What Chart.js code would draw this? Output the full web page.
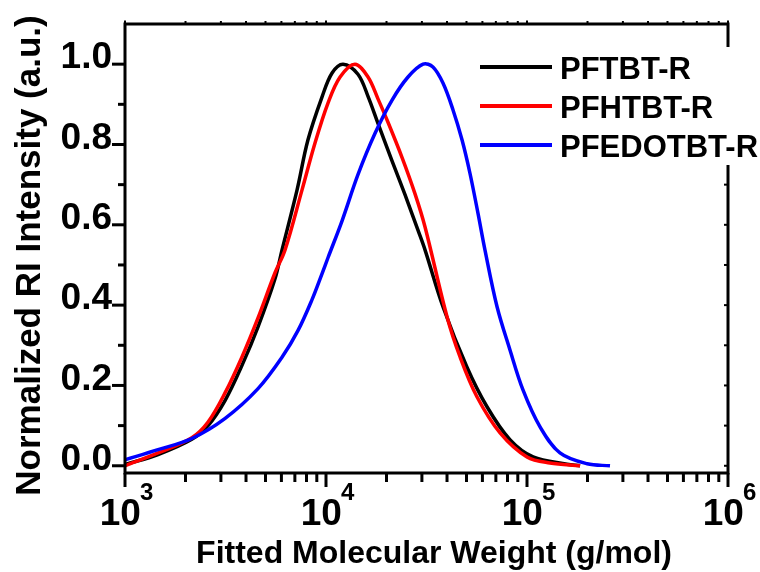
<!DOCTYPE html>
<html><head><meta charset="utf-8">
<script src="https://cdn.jsdelivr.net/npm/chart.js@4.4.0/dist/chart.umd.min.js"></script>
<style>html,body{margin:0;padding:0;background:#fff}canvas{display:block}</style>
</head><body>
<canvas id="c" width="760" height="572"></canvas>
<script>
// ---- data ----
const seriesNames  = ['PFTBT-R', 'PFHTBT-R', 'PFEDOTBT-R'];
const seriesColors = ['#000000', '#ff0000', '#0000ff'];

const pftbtMW  = [1000, 1460, 2150, 2590, 3150, 3820, 4590, 5570, 6040, 7180, 8130, 9550, 10720, 12160, 14420, 16180, 18160, 21280, 24720, 28710, 31120, 38190, 50230, 63240, 82220, 107200, 158100, 183700];
const pftbtInt = [0.003, 0.028, 0.066, 0.100, 0.163, 0.250, 0.346, 0.465, 0.537, 0.687, 0.811, 0.918, 0.978, 1.000, 0.975, 0.920, 0.852, 0.760, 0.675, 0.586, 0.537, 0.396, 0.246, 0.147, 0.065, 0.022, 0.004, 0.000];

const pfhtbtMW  = [1000, 1460, 2150, 2590, 3150, 3820, 4590, 5570, 6250, 7600, 8810, 10230, 11750, 13930, 16180, 18160, 20320, 23880, 27730, 31120, 40000, 46450, 56360, 73450, 100000, 130000, 183700];
const pfhtbtInt = [0.000, 0.032, 0.070, 0.109, 0.182, 0.271, 0.368, 0.480, 0.537, 0.687, 0.803, 0.903, 0.968, 1.000, 0.968, 0.913, 0.856, 0.768, 0.677, 0.594, 0.371, 0.271, 0.172, 0.082, 0.022, 0.007, 0.000];

const pfedotMW  = [1000, 1460, 2150, 3150, 4590, 6040, 7260, 8510, 9550, 10230, 12020, 14420, 17540, 21280, 25590, 30410, 34040, 38190, 42850, 47530, 51990, 57020, 61800, 70960, 82220, 95500, 116100, 145900, 199100, 258800];
const pfedotInt = [0.015, 0.040, 0.068, 0.118, 0.192, 0.270, 0.337, 0.413, 0.478, 0.518, 0.610, 0.725, 0.828, 0.910, 0.968, 1.000, 0.993, 0.953, 0.886, 0.811, 0.729, 0.629, 0.537, 0.396, 0.289, 0.189, 0.097, 0.032, 0.005, 0.000];

const yTickValues  = [0.0, 0.2, 0.4, 0.6, 0.8, 1.0];
const yMinorValues = [0.1, 0.3, 0.5, 0.7, 0.9];
const xMajorValues = [1e3, 1e4, 1e5, 1e6];
const xExponents   = ['3', '4', '5', '6'];
const xTitle = 'Fitted Molecular Weight (g/mol)';
const yTitle = 'Normalized RI Intensity (a.u.)';

const FONT = '"Liberation Sans", Arial, sans-serif';

function toPoints(xs, ys) { return xs.map((v, i) => ({x: v, y: ys[i]})); }

const datasets = [
  {label: seriesNames[0], data: toPoints(pftbtMW, pftbtInt), borderColor: seriesColors[0], order: 3},
  {label: seriesNames[1], data: toPoints(pfhtbtMW, pfhtbtInt), borderColor: seriesColors[1], order: 2},
  {label: seriesNames[2], data: toPoints(pfedotMW, pfedotInt), borderColor: seriesColors[2], order: 1}
].map(d => Object.assign(d, {borderWidth: 3.5, pointRadius: 0, fill: false, tension: 0.35}));

const decorPlugin = {
  id: 'decor',
  afterDraw(chart) {
    const {ctx, chartArea: a, scales: {x, y}} = chart;
    ctx.save();
    ctx.strokeStyle = '#000';
    ctx.fillStyle = '#000';
    ctx.lineCap = 'butt';
    const line = (x0, y0, x1, y1, w) => { ctx.lineWidth = w; ctx.beginPath(); ctx.moveTo(x0, y0); ctx.lineTo(x1, y1); ctx.stroke(); };

    // minor x positions 2..9 x decade
    const xMinor = [];
    for (let i = 0; i < xMajorValues.length - 1; i++)
      for (let k = 2; k <= 9; k++) xMinor.push(xMajorValues[i] * k);

    // bottom + top ticks
    xMajorValues.forEach(v => { const p = x.getPixelForValue(v); line(p, a.bottom, p, a.bottom + 14, 3); line(p, a.top, p, a.top - 3.5, 2); });
    xMinor.forEach(v => { const p = x.getPixelForValue(v); line(p, a.bottom, p, a.bottom + 9, 3); line(p, a.top, p, a.top - 3, 2); });
    // left + right ticks
    yTickValues.forEach(v => { const p = y.getPixelForValue(v); line(a.left, p, a.left - 13, p, 3); line(a.right, p, a.right - 4, p, 2); });
    yMinorValues.forEach(v => { const p = y.getPixelForValue(v); line(a.left, p, a.left - 7, p, 3); line(a.right, p, a.right - 4, p, 2); });

    // frame
    ctx.lineWidth = 3;
    ctx.strokeRect(a.left, a.top, a.right - a.left, a.bottom - a.top);

    // x tick labels 10^n
    xMajorValues.forEach((v, i) => {
      const p = x.getPixelForValue(v);
      ctx.font = 'bold 37px ' + FONT;
      const wb = ctx.measureText('10').width;
      ctx.font = 'bold 24px ' + FONT;
      const we = ctx.measureText(xExponents[i]).width;
      const start = p - (wb + we) / 2 + 2;
      ctx.textAlign = 'left'; ctx.textBaseline = 'alphabetic';
      ctx.font = 'bold 37px ' + FONT;
      ctx.fillText('10', start, 525);
      ctx.font = 'bold 24px ' + FONT;
      ctx.fillText(xExponents[i], start + wb - 1, 500);
    });

    // axis titles
    ctx.textAlign = 'center'; ctx.textBaseline = 'alphabetic';
    ctx.font = 'bold 32px ' + FONT;
    ctx.fillText(xTitle, 434, 563);
    ctx.save();
    ctx.translate(40, 255.5);
    ctx.rotate(-Math.PI / 2);
    ctx.font = 'bold 35px ' + FONT;
    ctx.fillText(yTitle, 0, 0);
    ctx.restore();

    // legend
    ctx.fillStyle = '#fff';
    ctx.fillRect(476, 47, 284, 118);
    const rows = [67, 106, 145];
    chart.data.datasets.forEach((d, i) => {
      ctx.strokeStyle = d.borderColor;
      line(480, rows[i], 552, rows[i], 4);
      ctx.fillStyle = '#000';
      ctx.font = 'bold 31px ' + FONT;
      ctx.textAlign = 'left'; ctx.textBaseline = 'alphabetic';
      ctx.fillText(d.label, 560, rows[i] + 11.5);
    });
    ctx.restore();
  }
};

new Chart(document.getElementById('c'), {
  type: 'line',
  data: {datasets},
  options: {
    responsive: false,
    animation: false,
    layout: {padding: {top: 24, right: 32, left: 0, bottom: 0}},
    plugins: {legend: {display: false}, tooltip: {enabled: false}},
    scales: {
      x: {
        type: 'logarithmic', min: 1e3, max: 1e6,
        grid: {display: false, drawTicks: false},
        border: {display: false},
        ticks: {display: false},
        afterFit: s => { s.height = 99; }
      },
      y: {
        type: 'linear', min: -0.018, max: 1.1,
        grid: {display: false, drawTicks: true, tickLength: 13},
        border: {display: false},
        afterBuildTicks: s => { s.ticks = yTickValues.map(v => ({value: v})); },
        ticks: {
          padding: 0, labelOffset: -6, color: '#000',
          font: {family: FONT, size: 37, weight: 'bold'},
          callback: v => Number(v).toFixed(1)
        },
        afterFit: s => { s.width = 125; }
      }
    }
  },
  plugins: [decorPlugin]
});
</script>
</body></html>
